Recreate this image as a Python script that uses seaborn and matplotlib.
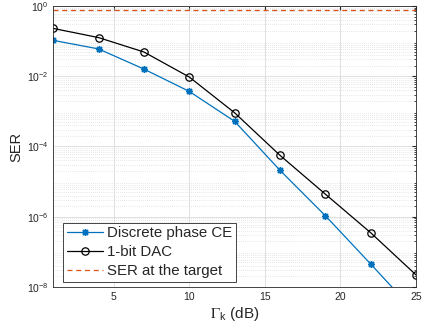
import numpy as np
import pandas as pd
import matplotlib
matplotlib.use("Agg")
import matplotlib.pyplot as plt
import seaborn as sns
from matplotlib.ticker import LogLocator, NullFormatter, FixedLocator

gamma_db = [1, 4, 7, 10, 13, 16, 19, 22, 25]
ser_discrete = [0.105, 0.06, 0.016, 0.0037, 5.2e-4, 2.1e-5, 1.07e-6, 4.5e-8, 1.8e-9]
ser_1bit = [0.23, 0.126, 0.049, 0.0095, 9.1e-4, 5.6e-5, 4.4e-6, 3.5e-7, 2.2e-8]
ser_target = 0.77
labels = ["Discrete phase CE", "1-bit DAC", "SER at the target"]
xticks = [5, 10, 15, 20, 25]

sns.set_style("white")
plt.rcParams['font.family'] = ['Liberation Sans', 'DejaVu Sans']
plt.rcParams['mathtext.fontset'] = 'stix'

fig = plt.figure(figsize=(4.22, 3.32), dpi=100)
ax = fig.add_axes([0.126, 0.1355, 0.86, 0.8465])

df1 = pd.DataFrame({"x": gamma_db, "y": ser_discrete})
df2 = pd.DataFrame({"x": gamma_db, "y": ser_1bit})
df3 = pd.DataFrame({"x": [gamma_db[0], gamma_db[-1]], "y": [ser_target, ser_target]})

sns.lineplot(data=df1, x="x", y="y", ax=ax, color="#0072BD", lw=0.9,
             marker=(8, 2, 0), markersize=5, markeredgewidth=1.0,
             markeredgecolor="#0072BD", label=labels[0])
sns.lineplot(data=df2, x="x", y="y", ax=ax, color="black", lw=0.9,
             marker="o", markersize=5.3, markerfacecolor="none",
             markeredgewidth=0.9, markeredgecolor="black", label=labels[1])
sns.lineplot(data=df3, x="x", y="y", ax=ax, color="#D95319", lw=0.9,
             linestyle=(0, (4, 3)), label=labels[2])

ax.set_yscale("log")
ax.set_xlim(1, 25)
ax.set_ylim(1e-8, 1)
ax.xaxis.set_major_locator(FixedLocator(xticks))
ax.yaxis.set_major_locator(FixedLocator([1e-8, 1e-6, 1e-4, 1e-2, 1]))
ax.yaxis.set_minor_locator(LogLocator(base=10, subs=np.arange(2, 10), numticks=20))
ax.yaxis.set_minor_formatter(NullFormatter())

ax.grid(True, which="major", color="#dcdcdc", lw=0.6, linestyle="-")
ax.grid(True, which="minor", axis="y", color="#d0d0d0", lw=0.5, linestyle=(0, (1, 2)))
ax.set_axisbelow(True)

for s in ax.spines.values():
    s.set_visible(True)
    s.set_color("#262626")
    s.set_linewidth(0.6)

ax.tick_params(which="both", direction="in", top=True, right=True,
               colors="#262626", labelsize=7.5, labelcolor="#262626")
ax.tick_params(which="major", length=3)
ax.tick_params(which="minor", length=1.5, bottom=False, top=False)

ax.set_ylabel("SER", fontsize=10.5, color="#262626", labelpad=2)
ax.set_xlabel(r"$\Gamma_{\mathregular{k}}$ (dB)", fontsize=11, color="#262626", labelpad=2)

leg = ax.legend(loc="lower left", fontsize=10.8, frameon=True, fancybox=False,
                edgecolor="#262626", framealpha=1, borderpad=0.25,
                labelspacing=0.32, handlelength=2.4, handletextpad=0.3,
                borderaxespad=0.35, bbox_to_anchor=(0.012, 0.0))
leg.get_frame().set_linewidth(0.6)

fig.savefig("out.png", dpi=100)
